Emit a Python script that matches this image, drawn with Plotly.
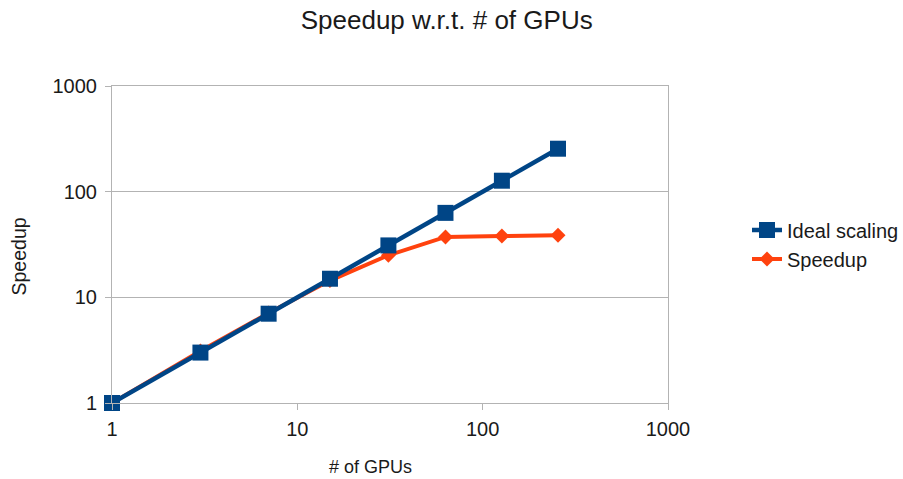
import plotly.graph_objects as go

gpus = [1, 3, 7, 15, 31, 63, 127, 255]
ideal = [1, 3, 7, 15, 31, 63, 127, 255]
speedup = [1, 3.1, 7.1, 14.4, 25.0, 37.3, 38.0, 38.6]
tick_vals = [1, 10, 100, 1000]
tick_text = ["1", "10", "100", "1000"]

W, H = 903, 479
L, R, T, B = 112, 668, 86, 403

def px(x):
    return (x - L) / (R - L)

def py(y):
    return (B - y) / (B - T)

BLUE = "#004586"
ORANGE = "#ff420e"
GRID = "#b3b3b3"
FONT = "Liberation Sans, Arial, sans-serif"

fig = go.Figure()
fig.add_trace(go.Scatter(
    x=gpus, y=speedup, name="Speedup", mode="lines+markers",
    line=dict(color=ORANGE, width=4),
    marker=dict(symbol="diamond", size=11.5, color=ORANGE),
    cliponaxis=False, legendrank=2,
))
fig.add_trace(go.Scatter(
    x=gpus, y=ideal, name="Ideal scaling", mode="lines+markers",
    line=dict(color=BLUE, width=4.5),
    marker=dict(symbol="square", size=16, color=BLUE),
    cliponaxis=False, legendrank=1,
))

fig.update_layout(
    width=W, height=H,
    margin=dict(l=L, r=W - R, t=T, b=H - B, pad=0),
    paper_bgcolor="white", plot_bgcolor="white",
    font=dict(family=FONT, size=20, color="#1a1a1a"),
    title=dict(text="Speedup w.r.t. # of GPUs", x=446.7 / W, xanchor="center",
               y=1 - 20 / H, yanchor="middle", xref="container", yref="container",
               font=dict(size=26, color="#1a1a1a")),
    showlegend=True,
    legend=dict(x=747 / W, xanchor="left", y=1 - 244.5 / H, yanchor="middle",
                xref="container", yref="container",
                font=dict(size=20, color="#1a1a1a"), bgcolor="rgba(0,0,0,0)",
                tracegroupgap=0),
    xaxis=dict(type="log", range=[0, 3], tickvals=tick_vals, ticktext=tick_text,
               showgrid=False, zeroline=False, showline=True, linecolor=GRID, linewidth=1,
               mirror=True, ticks="outside", ticklen=6, tickcolor=GRID,
               ticklabelstandoff=2,
               tickfont=dict(size=20, color="#1a1a1a")),
    yaxis=dict(type="log", range=[0, 3], tickvals=tick_vals, ticktext=tick_text,
               showgrid=True, gridcolor=GRID, gridwidth=1, zeroline=False,
               showline=True, linecolor=GRID, linewidth=1, mirror=True,
               ticks="outside", ticklen=6, tickcolor=GRID,
               ticklabelstandoff=4,
               tickfont=dict(size=20, color="#1a1a1a")),
    annotations=[
        dict(text="# of GPUs", x=px(370.5), y=py(467), xref="paper", yref="paper",
             showarrow=False, xanchor="center", yanchor="middle",
             font=dict(size=18, color="#1a1a1a")),
        dict(text="Speedup", x=px(18), y=py(256.5), xref="paper", yref="paper",
             showarrow=False, xanchor="center", yanchor="middle", textangle=-90,
             font=dict(size=19.5, color="#1a1a1a")),
    ],
)

fig.write_html("out.html", config={"displayModeBar": False},
               post_script="document.body.style.margin='0';document.body.style.overflow='hidden';")
